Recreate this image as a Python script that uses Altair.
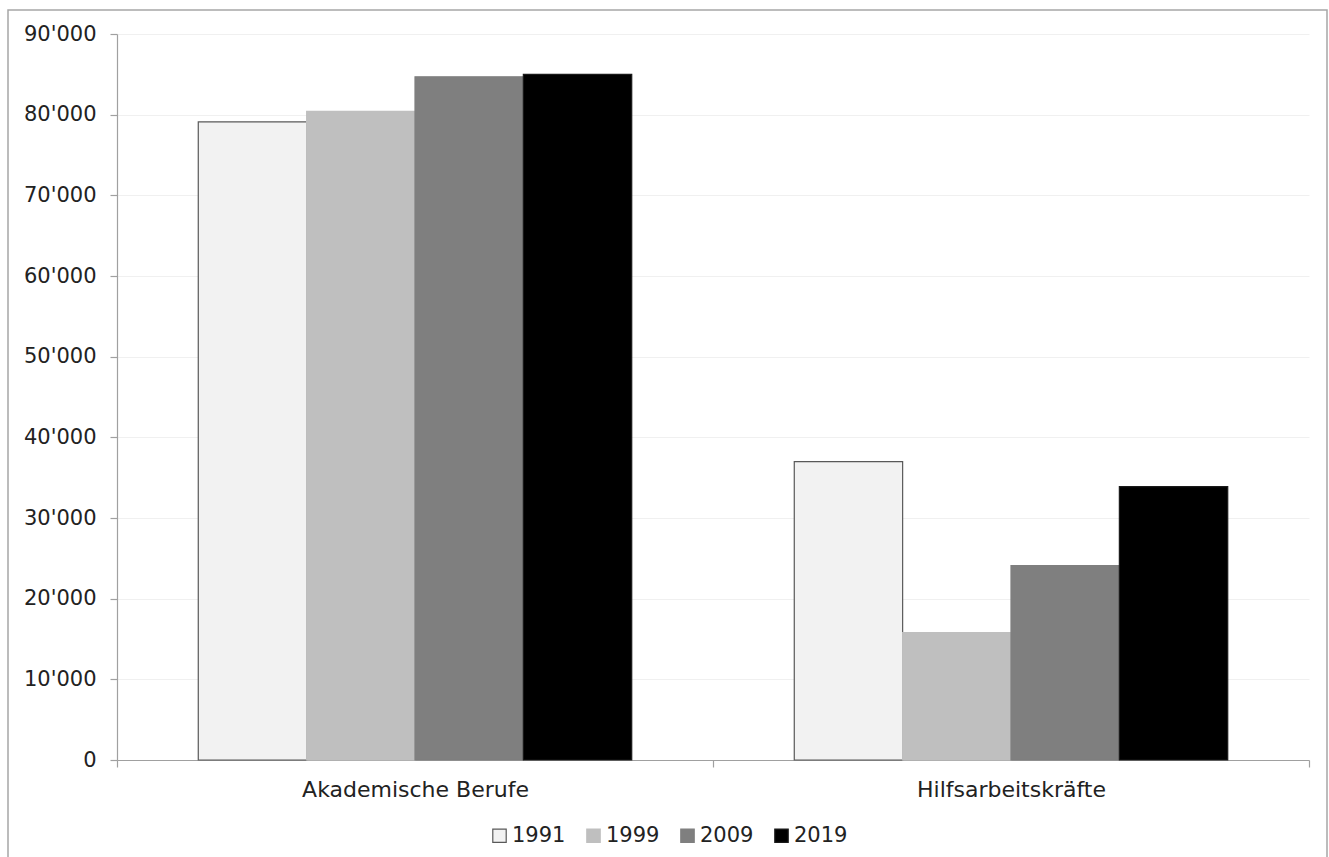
import altair as alt
import pandas as pd

# Employment by occupational group, four survey years
groups = ["Akademische Berufe", "Hilfsarbeitskräfte"]
years = ["1991", "1999", "2009", "2019"]
akademisch = [79100, 80400, 84700, 85000]
hilfsarbeit = [37000, 15800, 24100, 33900]

fills = ["#f2f2f2", "#bfbfbf", "#7f7f7f", "#000000"]
strokes = ["#595959", "#bfbfbf", "#7f7f7f", "#1a1a1a"]
y_ticks = list(range(0, 90001, 10000))

rows = []
for g, vals in zip(groups, [akademisch, hilfsarbeit]):
    for yr, v in zip(years, vals):
        rows.append({"Gruppe": g, "Jahr": yr, "Wert": v})
df = pd.DataFrame(rows)

FONT = "DejaVu Sans"
W, H = 1192, 726

bars = alt.Chart(df).mark_bar(strokeWidth=1.2).encode(
    x=alt.X("Gruppe:N", sort=groups, title=None,
            scale=alt.Scale(paddingInner=0, paddingOuter=0),
            axis=alt.Axis(labelAngle=0, tickBand="extent", labelPadding=12,
                          tickSize=7, labelFontSize=22, labelLimit=0)),
    xOffset=alt.XOffset("Jahr:N", sort=years,
                        scale=alt.Scale(paddingInner=0, paddingOuter=0.75)),
    y=alt.Y("Wert:Q", title=None,
            scale=alt.Scale(domain=[0, 90000], nice=False),
            axis=alt.Axis(values=y_ticks, tickSize=7, labelPadding=14,
                          labelFontSize=21, grid=True,
                          labelExpr="replace(format(datum.value, ',d'), ',', \"'\")")),
    fill=alt.Fill("Jahr:N", sort=years, title=None,
                  scale=alt.Scale(domain=years, range=fills),
                  legend=alt.Legend(orient="none", direction="horizontal",
                                    legendX=372, legendY=791, padding=0,
                                    symbolType="square", symbolSize=180,
                                    symbolStrokeWidth=1.2, labelOffset=2,
                                    columnPadding=17, labelFontSize=21,
                                    labelFont=FONT, labelColor="#222222")),
    stroke=alt.Stroke("Jahr:N", sort=years, title=None,
                      scale=alt.Scale(domain=years, range=strokes)),
)

# outer frame around the figure
frame = alt.Chart(alt.Data(values=[{}])).mark_rect(
    fill=None, stroke="#a6a6a6", strokeWidth=1.5
).encode(
    x=alt.value(-109), x2=alt.value(1210),
    y=alt.value(-24), y2=alt.value(840),
)

chart = alt.layer(bars, frame).properties(
    width=W, height=H,
    padding={"left": 117, "top": 34, "right": 20, "bottom": 97},
    autosize=alt.AutoSizeParams(type="none"),
).configure_view(stroke=None).configure_axis(
    labelFont=FONT, labelColor="#222222",
    domainColor="#a0a0a0", tickColor="#a0a0a0",
    gridColor="#f0f0f0", gridWidth=1, domainWidth=1.2, tickWidth=1.2,
).configure_axisX(grid=False)

chart.save("out.html", embed_options={"renderer": "svg", "actions": False})
